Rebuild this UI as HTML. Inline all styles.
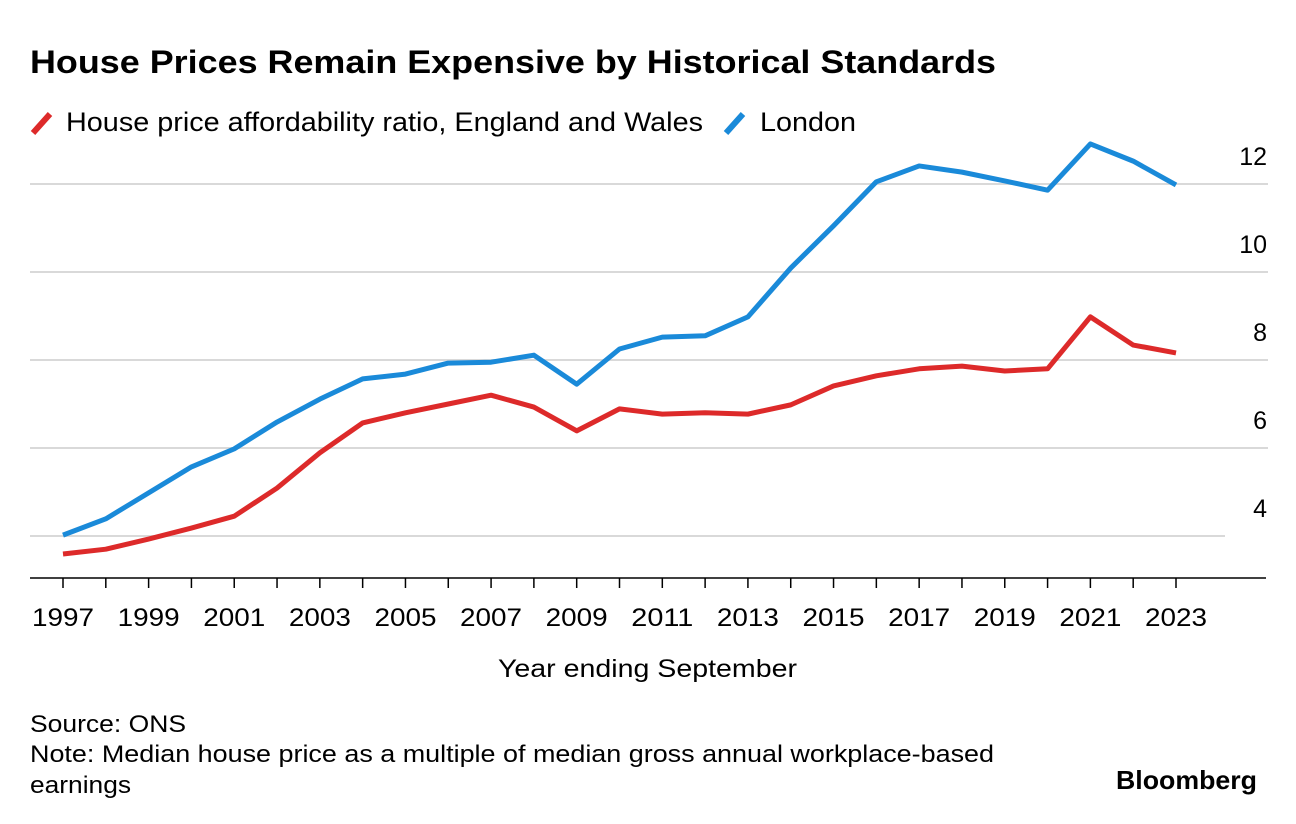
<!DOCTYPE html>
<html><head><meta charset="utf-8"><style>
body{margin:0;background:#fff;width:1296px;height:824px;overflow:hidden;font-family:"Liberation Sans",sans-serif;color:#000}
svg{position:absolute;left:0;top:0}
</style></head><body>
<svg width="1296" height="824">
<text x="30" y="73" font-size="32" font-weight="bold" textLength="966" lengthAdjust="spacingAndGlyphs">House Prices Remain Expensive by Historical Standards</text>
<g>
<line x1="33" y1="133" x2="50" y2="114" stroke="#dd2a2a" stroke-width="6"/>
<text x="66" y="131" font-size="27" textLength="637" lengthAdjust="spacingAndGlyphs">House price affordability ratio, England and Wales</text>
<line x1="726" y1="133" x2="743" y2="114" stroke="#1a8ad9" stroke-width="6"/>
<text x="760" y="131" font-size="27" textLength="96" lengthAdjust="spacingAndGlyphs">London</text>
</g>
<g id="grid"></g><g id="xaxis"></g><g id="lines"></g>
<text x="498" y="677" font-size="25" textLength="299" lengthAdjust="spacingAndGlyphs">Year ending September</text>
<text x="30" y="732" font-size="24" textLength="156" lengthAdjust="spacingAndGlyphs">Source: ONS</text>
<text x="30" y="762" font-size="24" textLength="964" lengthAdjust="spacingAndGlyphs">Note: Median house price as a multiple of median gross annual workplace-based</text>
<text x="30" y="793" font-size="24" textLength="101" lengthAdjust="spacingAndGlyphs">earnings</text>
<text x="1116" y="789" font-size="26" font-weight="bold" textLength="141" lengthAdjust="spacingAndGlyphs">Bloomberg</text>
</svg>
<script>
const years=[1997,1998,1999,2000,2001,2002,2003,2004,2005,2006,2007,2008,2009,2010,2011,2012,2013,2014,2015,2016,2017,2018,2019,2020,2021,2022,2023];
const englandWales=[3.59,3.70,3.93,4.18,4.45,5.09,5.89,6.57,6.80,7.00,7.20,6.93,6.39,6.89,6.77,6.80,6.77,6.98,7.41,7.64,7.80,7.86,7.75,7.80,8.98,8.34,8.16];
const london=[4.02,4.39,4.98,5.57,5.98,6.59,7.11,7.57,7.68,7.93,7.95,8.11,7.45,8.25,8.52,8.55,8.98,10.09,11.05,12.05,12.41,12.27,12.07,11.86,12.91,12.52,11.98];
const yTicks=[4,6,8,10,12];
const xLabels=[1997,1999,2001,2003,2005,2007,2009,2011,2013,2015,2017,2019,2021,2023];
const NS='http://www.w3.org/2000/svg';
const x=yr=>63+(yr-1997)*(1113/26);
const y=v=>536-(v-4)*44;
function mk(t,a,p){const e=document.createElementNS(NS,t);for(const k in a)e.setAttribute(k,a[k]);p.appendChild(e);return e;}
const grid=document.getElementById('grid');
yTicks.forEach(v=>{
 const l=mk('line',{x1:30,x2:v===4?1225:1268,y1:y(v),y2:y(v),stroke:'#d9d9d9','stroke-width':2},grid);
 
 
 const t=mk('text',{x:1267,y:y(v)-19,'font-size':25,'text-anchor':'end'},grid);t.textContent=v;
 
 
});
const xa=document.getElementById('xaxis');
const ax=mk('line',{x1:30,x2:1266,y1:578,y2:578,stroke:'#000','stroke-width':1.5},xa);


years.forEach(yr=>{const tk=mk('line',{x1:x(yr),x2:x(yr),y1:578,y2:588,stroke:'#000','stroke-width':1.5},xa);
 
 });
xLabels.forEach(yr=>{const t=mk('text',{x:x(yr)-31,y:626,'font-size':25,textLength:62,lengthAdjust:'spacingAndGlyphs'},xa);t.textContent=yr;
 
 });
const lg=document.getElementById('lines');
function series(vals,color,name){
 const p=mk('polyline',{points:vals.map((v,i)=>x(years[i])+','+y(v)).join(' '),fill:'none',stroke:color,'stroke-width':5,'stroke-linejoin':'round'},lg);
 
 
}
series(englandWales,'#dd2a2a','line-england-wales');
series(london,'#1a8ad9','line-london');
</script>
</body></html>
